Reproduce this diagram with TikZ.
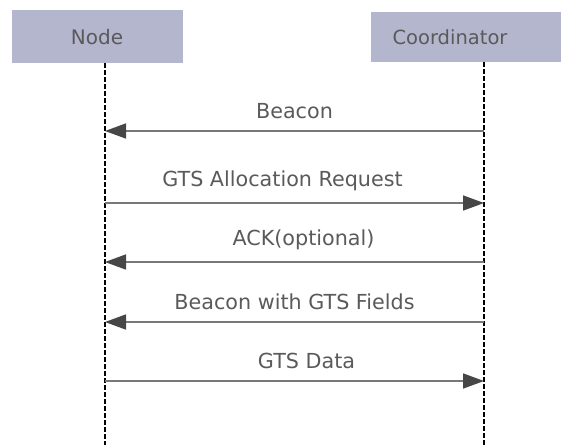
\documentclass[tikz,border=0pt]{standalone}
\usepackage{fontspec}
\setmainfont{DejaVu Sans}
\usepackage{xcolor}
\usetikzlibrary{arrows.meta}

\definecolor{boxfill}{RGB}{180,182,206}
\definecolor{msgtext}{RGB}{90,90,90}
\definecolor{msgline}{RGB}{120,120,120}
\definecolor{tipfill}{RGB}{70,70,70}

\tikzset{
  lifebox/.style={fill=boxfill, draw=none},
  lifeline/.style={line width=2.4pt, draw=black, dash pattern=on 4.5pt off 2.5pt},
  msg/.style={line width=1.6pt, draw=msgline,
    -{Triangle[length=21pt, width=15pt, fill=tipfill, color=tipfill]}},
  msglabel/.style={text=msgtext, font=\fontsize{20.7}{24}\selectfont, above=8pt}
}

\begin{document}
\begin{tikzpicture}[x=1pt, y=-1pt]
  \useasboundingbox (0, 0) rectangle (561, 445);

  % Participants
  \fill[lifebox] (12, 10) rectangle (183, 63);
  \fill[lifebox] (371, 12) rectangle (561, 62);
  \node[text=msgtext, font=\fontsize{20}{22}\selectfont] (node) at (97, 37) {Node};
  \node[text=msgtext, font=\fontsize{19.5}{22}\selectfont] (coord) at (450, 37) {Coordinator};

  % Lifelines
  \coordinate (ntop) at (105, 63);
  \coordinate (nbot) at (105, 445);
  \coordinate (ctop) at (484, 62);
  \coordinate (cbot) at (484, 445);
  \draw[lifeline] (ntop) -- (nbot);
  \draw[lifeline] (ctop) -- (cbot);

  % Message ends
  \coordinate (n1) at (105, 131);
  \coordinate (c1) at (484, 131);
  \coordinate (n2) at (105, 203);
  \coordinate (c2) at (484, 203);
  \coordinate (n3) at (105, 262);
  \coordinate (c3) at (484, 262);
  \coordinate (n4) at (105, 322);
  \coordinate (c4) at (484, 322);
  \coordinate (n5) at (105, 381);
  \coordinate (c5) at (484, 381);

  % Messages
  \draw[msg] (c1) -- node[msglabel] (beacon) {Beacon} (n1);
  \draw[msg] (n2) -- node[msglabel, xshift=-12pt] (gtsreq) {GTS Allocation Request} (c2);
  \draw[msg] (c3) -- node[msglabel, xshift=9pt] (ack) {ACK(optional)} (n3);
  \draw[msg] (c4) -- node[msglabel] (beacongts) {Beacon with GTS Fields} (n4);
  \draw[msg] (n5) -- node[msglabel, xshift=12pt] (gtsdata) {GTS Data} (c5);
\end{tikzpicture}
\end{document}
